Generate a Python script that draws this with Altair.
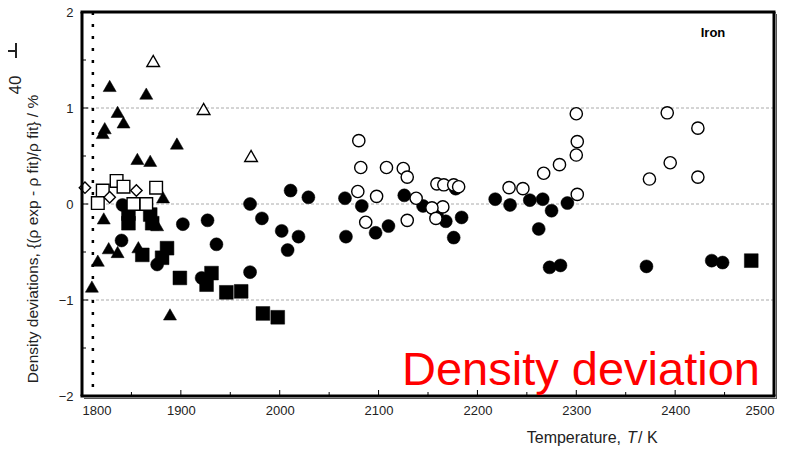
import altair as alt
import pandas as pd

FONT = "Liberation Sans"

# ---------------- data ----------------
# filled triangles
ft_T = [1828, 1836, 1842, 1823, 1821, 1865, 1896, 1856, 1869, 1810, 1816, 1827, 1822, 1857, 1836, 1876, 1882, 1889]
ft_v = [1.23, 0.96, 0.85, 0.79, 0.74, 1.15, 0.63, 0.47, 0.45, -0.86, -0.59, -0.46, -0.15, -0.45, -0.50, -0.22, 0.07, -1.15]
# filled circles
fc_T = [1841, 1840, 1902, 1876, 1927, 1936, 1970, 1982, 2002, 2008, 2019, 1970, 1921, 2011, 2029,
        2066, 2083, 2067, 2097, 2110, 2126, 2145, 2159, 2168, 2178, 2184, 2176, 2218, 2233, 2253,
        2266, 2275, 2291, 2262, 2273, 2284, 2371, 2437, 2448]
fc_v = [-0.01, -0.38, -0.21, -0.63, -0.17, -0.42, 0.00, -0.15, -0.28, -0.48, -0.34, -0.71, -0.77, 0.14, 0.07,
        0.06, -0.02, -0.34, -0.30, -0.23, 0.09, -0.02, -0.11, -0.18, 0.16, -0.14, -0.35, 0.05, -0.01, 0.04,
        0.05, -0.07, 0.01, -0.26, -0.66, -0.64, -0.65, -0.59, -0.61]
# filled squares
fs_T = [1847, 1847, 1869, 1871, 1861, 1886, 1881, 1899, 1931, 1926, 1946, 1961, 1983, 1998, 2477]
fs_v = [-0.10, -0.20, -0.11, -0.20, -0.53, -0.46, -0.56, -0.77, -0.72, -0.84, -0.92, -0.91, -1.14, -1.18, -0.59]
# open triangles
ot_T = [1872, 1923, 1971]
ot_v = [1.49, 0.99, 0.50]
# open squares
os_T = [1835, 1842, 1821, 1816, 1875, 1865, 1852]
os_v = [0.24, 0.18, 0.14, 0.01, 0.17, 0.00, 0.00]
# open diamonds
od_T = [1803, 1855, 1828]
od_v = [0.17, 0.14, 0.07]
# open circles
oc_T = [2080, 2082, 2079, 2087, 2098, 2108, 2125, 2129, 2129, 2138, 2159, 2166, 2176, 2181, 2165, 2154, 2158,
        2232, 2246, 2267, 2283, 2300, 2301, 2300, 2301, 2374, 2392, 2395, 2423, 2423]
oc_v = [0.66, 0.38, 0.13, -0.19, 0.08, 0.38, 0.37, 0.28, -0.17, 0.06, 0.21, 0.20, 0.20, 0.18, -0.03, -0.04, -0.15,
        0.17, 0.16, 0.32, 0.41, 0.51, 0.65, 0.94, 0.10, 0.26, 0.95, 0.43, 0.79, 0.28]

melting_T = [1811]
grid_v = [-1, 0, 1]
x_ticks = [1800, 1900, 2000, 2100, 2200, 2300, 2400, 2500]
x_minor = [1850, 1950, 2050, 2150, 2250, 2350, 2450]
y_ticks = [-2, -1, 0, 1, 2]
y_minor = [-1.5, -0.5, 0.5, 1.5]

W, H = 692, 384

xscale = alt.Scale(domain=[1800, 2500], nice=False, zero=False)
yscale = alt.Scale(domain=[-2, 2], nice=False, zero=False)

xaxis = alt.Axis(values=x_ticks, ticks=False, domain=False, grid=False, title=None,
                 labelFont=FONT, labelFontSize=13, labelColor="#222", labelPadding=8, format="d")
yaxis = alt.Axis(values=y_ticks, ticks=False, domain=False, grid=False, title=None,
                 labelFont=FONT, labelFontSize=13, labelColor="#222", labelPadding=9, format="d")


def pts(T, v, shape, filled, size):
    df = pd.DataFrame({"T": T, "v": v})
    if filled:
        m = alt.Chart(df).mark_point(shape=shape, filled=True, fill="black", stroke="black",
                                     strokeWidth=0.5, size=size, opacity=1)
    else:
        m = alt.Chart(df).mark_point(shape=shape, filled=True, fill="white", stroke="black",
                                     strokeWidth=1.4, size=size, opacity=1)
    return m.encode(x=alt.X("T:Q", scale=xscale, axis=xaxis), y=alt.Y("v:Q", scale=yscale, axis=yaxis))


grid = alt.Chart(pd.DataFrame({"v": grid_v})).mark_rule(color="#aaa", strokeWidth=1, strokeDash=[3, 2]).encode(
    y=alt.Y("v:Q", scale=yscale, axis=yaxis))

melt = alt.Chart(pd.DataFrame({"T": melting_T})).mark_rule(color="black", strokeWidth=2.5, strokeDash=[3, 9]).encode(
    x=alt.X("T:Q", scale=xscale, axis=xaxis))

ytk = alt.Chart(pd.DataFrame({"v": y_ticks})).mark_rule(color="black", strokeWidth=1).encode(
    y=alt.Y("v:Q", scale=yscale, axis=yaxis), x=alt.value(0), x2=alt.value(6))
ytk2 = alt.Chart(pd.DataFrame({"v": y_minor})).mark_rule(color="black", strokeWidth=1).encode(
    y=alt.Y("v:Q", scale=yscale, axis=yaxis), x=alt.value(0), x2=alt.value(4))
xtk = alt.Chart(pd.DataFrame({"T": x_ticks})).mark_rule(color="black", strokeWidth=1).encode(
    x=alt.X("T:Q", scale=xscale, axis=xaxis), y=alt.value(H), y2=alt.value(H - 6))
xtk2 = alt.Chart(pd.DataFrame({"T": x_minor})).mark_rule(color="black", strokeWidth=1).encode(
    x=alt.X("T:Q", scale=xscale, axis=xaxis), y=alt.value(H), y2=alt.value(H - 4))

one = pd.DataFrame({"k": [0]})
edge = dict(color="black", strokeWidth=3, opacity=1, strokeOpacity=1)
f_top = alt.Chart(one).mark_rule(**edge).encode(x=alt.value(-1.5), x2=alt.value(W + 1.5), y=alt.value(0))
f_bot = alt.Chart(one).mark_rule(**edge).encode(x=alt.value(-1.5), x2=alt.value(W + 1.5), y=alt.value(H))
f_lef = alt.Chart(one).mark_rule(**edge).encode(x=alt.value(0), y=alt.value(0), y2=alt.value(H))
f_rig = alt.Chart(one).mark_rule(**edge).encode(x=alt.value(W), y=alt.value(0), y2=alt.value(H))
shadow_r = alt.Chart(one).mark_rule(color="#555", strokeWidth=1).encode(
    x=alt.value(W + 2.5), y=alt.value(2), y2=alt.value(H + 3))
shadow_b = alt.Chart(one).mark_rule(color="#555", strokeWidth=1).encode(
    x=alt.value(2), x2=alt.value(W + 3), y=alt.value(H + 2.5))


def label(txt, x, y, **kw):
    return alt.Chart(pd.DataFrame({"t": [txt]})).mark_text(font=FONT, **kw).encode(
        text="t:N", x=alt.value(x), y=alt.value(y))


NB = "\u00a0"
iron = label("Iron", 631, 21, fontSize=13, fontWeight="bold", align="center", baseline="middle", color="black")
red = label("Density deviation", 320, 373, fontSize=47, align="left", baseline="alphabetic", color="#ff0000")
ytitle = label("Density deviations, {(ρ exp - ρ fit)/ρ fit} / %", -49, 227, fontSize=15.5, angle=270,
               align="center", baseline="middle", color="#222")
xt1 = label("Temperature,", 539, 426, fontSize=16, align="right", baseline="middle", color="#222")
xt2 = label("T", 545, 426, fontSize=16, fontStyle="italic", align="left", baseline="middle", color="#222")
xt3 = label(NB + "/" + NB + "K", 556, 426, fontSize=16, align="left", baseline="middle", color="#222")
frag = label("40", -66, 73, fontSize=17, angle=270, align="center", baseline="middle", color="#222")
frag_h = alt.Chart(one).mark_rule(color="#222", strokeWidth=2).encode(
    x=alt.value(-81), x2=alt.value(-66), y=alt.value(39))
frag_v = alt.Chart(one).mark_rule(color="#222", strokeWidth=2).encode(
    x=alt.value(-66), y=alt.value(31), y2=alt.value(46))

chart = alt.layer(
    grid, melt, ytk, ytk2, xtk, xtk2,
    pts(fc_T, fc_v, "circle", True, 169),
    pts(oc_T, oc_v, "circle", False, 150),
    pts(fs_T, fs_v, "square", True, 190),
    pts(ft_T, ft_v, "triangle-up", True, 170),
    pts(ot_T, ot_v, "triangle-up", False, 160),
    pts(os_T, os_v, "square", False, 160),
    pts(od_T, od_v, "diamond", False, 130),
    f_top, f_bot, f_lef, f_rig, shadow_r, shadow_b,
    iron, red, ytitle, xt1, xt2, xt3, frag, frag_h, frag_v,
).properties(
    width=W, height=H,
    autosize=alt.AutoSizeParams(type="none"),
    padding={"left": 74, "top": 4, "right": 20, "bottom": 60},
).configure_view(stroke="transparent").configure(background="white")

chart.save("out.html", embed_options={"renderer": "svg", "actions": False})
